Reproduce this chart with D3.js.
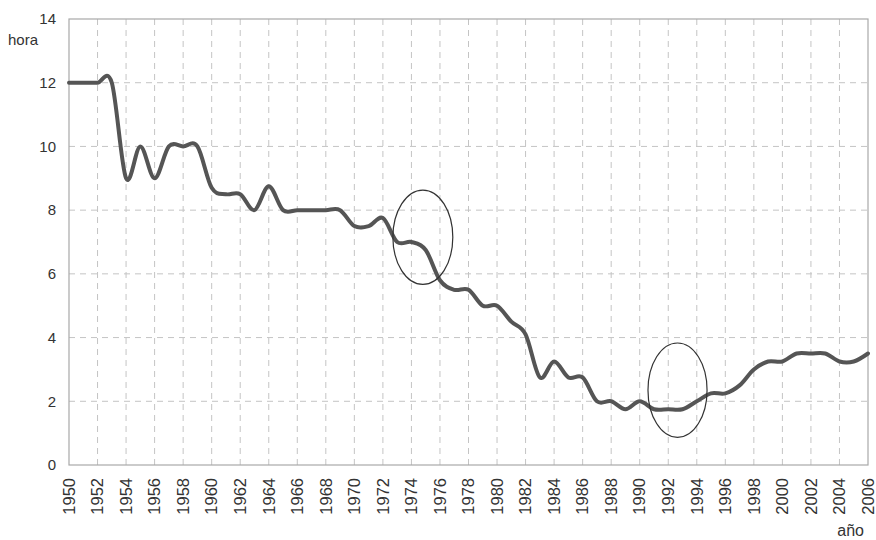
<!DOCTYPE html>
<html>
<head>
<meta charset="utf-8">
<script src="https://cdn.jsdelivr.net/npm/d3@7"></script>
<style>
  html, body { margin: 0; padding: 0; background: #fff; }
  svg { display: block; font-family: "Liberation Sans", Arial, sans-serif; }
</style>
</head>
<body>
<svg id="chart" width="876" height="540"></svg>
<script>
// ---- data ----
const years = d3.range(1950, 2007);
const hours = [
  12, 12, 12, 12, 9, 10, 9, 10, 10, 10,          // 1950-1959
  8.7, 8.5, 8.5, 8, 8.75, 8, 8, 8, 8, 8,          // 1960-1969
  7.5, 7.5, 7.75, 7, 7, 6.75, 5.8, 5.5, 5.5, 5,   // 1970-1979
  5, 4.5, 4.1, 2.75, 3.25, 2.75, 2.75, 2, 2, 1.75,// 1980-1989
  2, 1.75, 1.75, 1.75, 2, 2.25, 2.25, 2.5, 3, 3.25,// 1990-1999
  3.25, 3.5, 3.5, 3.5, 3.25, 3.25, 3.5            // 2000-2006
];
const yTicks = [0, 2, 4, 6, 8, 10, 12, 14];
const xTicks = d3.range(1950, 2007, 2);
const yLabel = "hora";
const xLabel = "año";
// highlighted regions: centre (year, hours) and radii (years, hours)
const circleYears = [1974.8, 1992.65];
const circleHours = [7.15, 2.35];
const circleRYears = [2.1, 2.07];
const circleRHours = [1.48, 1.48];

// ---- layout ----
const W = 876, H = 540;
const m = { left: 69, right: 8, top: 19, bottom: 75 };
const svg = d3.select("#chart");
const x = d3.scaleLinear().domain([1950, 2006]).range([m.left, W - m.right]);
const y = d3.scaleLinear().domain([0, 14]).range([H - m.bottom, m.top]);

const gridColor = "#c4c4c4";
const g = svg.append("g");

// vertical grid
g.append("g").selectAll("line")
  .data(xTicks.filter(d => d > 1950 && d < 2006))
  .join("line")
  .attr("x1", d => x(d)).attr("x2", d => x(d))
  .attr("y1", y(0)).attr("y2", y(14))
  .attr("stroke", gridColor).attr("stroke-width", 1)
  .attr("stroke-dasharray", "6,5");

// horizontal grid
g.append("g").selectAll("line")
  .data(yTicks.filter(d => d > 0 && d < 14))
  .join("line")
  .attr("x1", x(1950)).attr("x2", x(2006))
  .attr("y1", d => y(d)).attr("y2", d => y(d))
  .attr("stroke", gridColor).attr("stroke-width", 1)
  .attr("stroke-dasharray", "6,5");

// plot border
g.append("rect")
  .attr("x", x(1950)).attr("y", y(14))
  .attr("width", x(2006) - x(1950)).attr("height", y(0) - y(14))
  .attr("fill", "none").attr("stroke", "#a8a8a8").attr("stroke-width", 1.2);

// y axis labels
const yAxis = d3.axisLeft(y).tickValues(yTicks).tickSize(0).tickPadding(13).tickFormat(d3.format("d"));
const ya = svg.append("g").attr("transform", `translate(${x(1950)},0)`).call(yAxis);
ya.select(".domain").remove();
ya.selectAll("text").attr("font-size", 15).attr("fill", "#333")
  .attr("font-family", "'Liberation Sans', Arial, sans-serif");

// x axis labels (rotated)
svg.append("g").selectAll("text")
  .data(xTicks)
  .join("text")
  .attr("transform", d => `translate(${x(d)},${y(0) + 13}) rotate(-90)`)
  .attr("text-anchor", "end")
  .attr("dy", "0.35em")
  .attr("font-size", 16.5)
  .attr("fill", "#333")
  .text(d => d);

// axis titles
svg.append("text").attr("x", 8).attr("y", 45).attr("font-size", 15).attr("fill", "#333").text(yLabel);
svg.append("text").attr("x", 864).attr("y", 536).attr("text-anchor", "end").attr("font-size", 16).attr("fill", "#333").text(xLabel);

// line
const line = d3.line()
  .x((d, i) => x(years[i]))
  .y(d => y(d))
  .curve(d3.curveCardinal.tension(0));
svg.append("path")
  .datum(hours)
  .attr("d", line)
  .attr("fill", "none")
  .attr("stroke", "#555")
  .attr("stroke-width", 4)
  .attr("stroke-linejoin", "round")
  .attr("stroke-linecap", "round");

// highlight ellipses
svg.append("g").selectAll("ellipse")
  .data(circleYears)
  .join("ellipse")
  .attr("cx", d => x(d))
  .attr("cy", (d, i) => y(circleHours[i]))
  .attr("rx", (d, i) => x(d + circleRYears[i]) - x(d))
  .attr("ry", (d, i) => y(0) - y(circleRHours[i]))
  .attr("fill", "none")
  .attr("stroke", "#333")
  .attr("stroke-width", 1.2);
</script>
</body>
</html>
